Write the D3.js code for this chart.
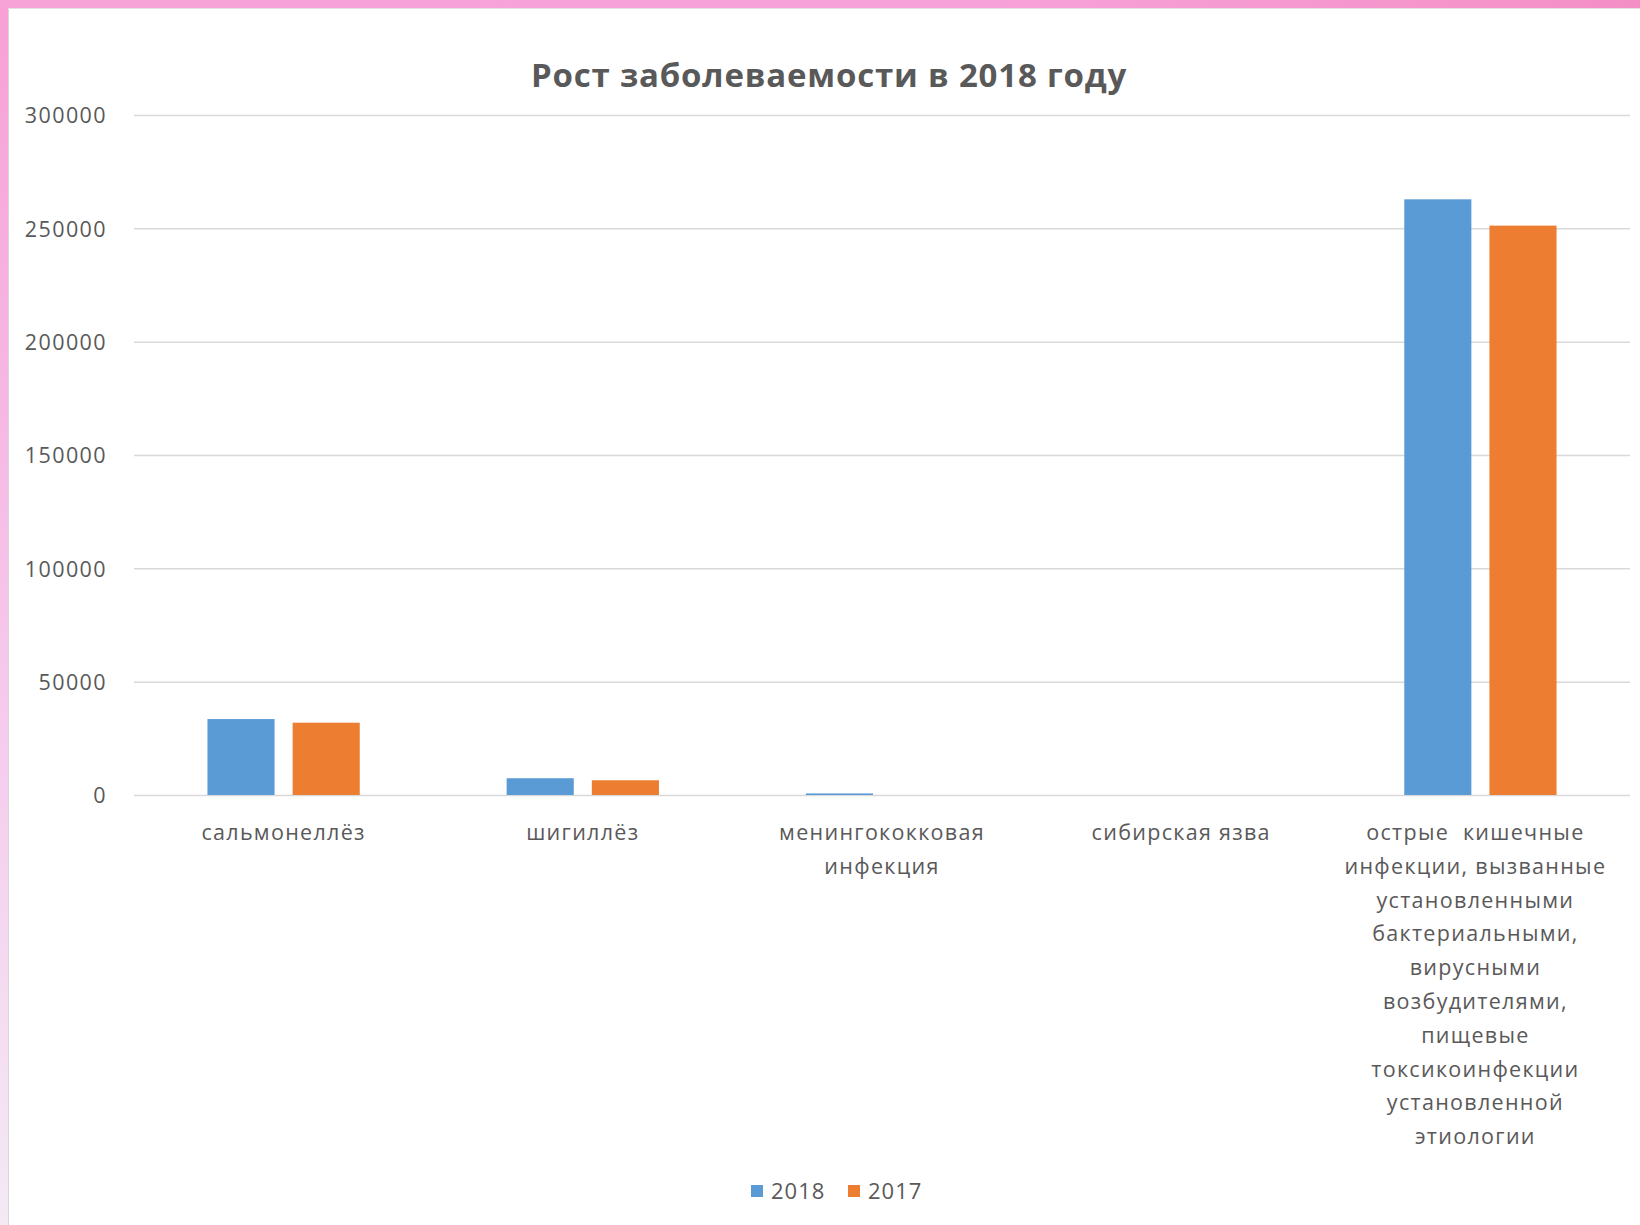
<!DOCTYPE html>
<html>
<head>
<meta charset="utf-8">
<script src="https://cdn.jsdelivr.net/npm/d3@7"></script>
<style>
  html, body { margin: 0; padding: 0; background: #ffffff; }
  svg { display: block; }
  text { font-family: "Open Sans", "Noto Sans", sans-serif; fill: #595959; }
</style>
</head>
<body>
<svg id="chart" width="1640" height="1225"></svg>
<script>
// Categories (label lines) and values per year
const categories = [
  ["сальмонеллёз"],
  ["шигиллёз"],
  ["менингококковая", "инфекция"],
  ["сибирская язва"],
  ["острые  кишечные", "инфекции, вызванные", "установленными", "бактериальными,", "вирусными", "возбудителями,", "пищевые", "токсикоинфекции", "установленной", "этиологии"]
];
const categoryKeys = ["sal", "shig", "mening", "anthrax", "oki"];
const series = ["2018", "2017"];
const values2018 = [33500, 7400, 700, 3, 262800];
const values2017 = [31900, 6500, 0, 1, 251200];
const yTicks = [0, 50000, 100000, 150000, 200000, 250000, 300000];
const title = "Рост заболеваемости в 2018 году";

const colors = { "2018": "#5b9bd5", "2017": "#ed7d31" };

const svg = d3.select("#chart");
const W = 1640, H = 1225;

// Page frame: pink gradient border on top and left
const defs = svg.append("defs");
const lg = defs.append("linearGradient").attr("id", "leftEdge")
  .attr("x1", 0).attr("y1", 0).attr("x2", 0).attr("y2", 1);
lg.append("stop").attr("offset", "0%").attr("stop-color", "#f7a0d6");
lg.append("stop").attr("offset", "55%").attr("stop-color", "#f6c8ec");
lg.append("stop").attr("offset", "100%").attr("stop-color", "#f3eaf4");
const tg = defs.append("linearGradient").attr("id", "topEdge")
  .attr("x1", 0).attr("y1", 0).attr("x2", 1).attr("y2", 0);
tg.append("stop").attr("offset", "0%").attr("stop-color", "#f8a3d8");
tg.append("stop").attr("offset", "60%").attr("stop-color", "#f7a2d9");
tg.append("stop").attr("offset", "100%").attr("stop-color", "#f48fc6");

svg.append("rect").attr("x", 0).attr("y", 0).attr("width", W).attr("height", H).attr("fill", "#ffffff");
svg.append("rect").attr("x", 0).attr("y", 0).attr("width", 8).attr("height", H).attr("fill", "url(#leftEdge)");
svg.append("rect").attr("x", 0).attr("y", 0).attr("width", W).attr("height", 8).attr("fill", "url(#topEdge)");
svg.append("line").attr("x1", 8.5).attr("x2", 8.5).attr("y1", 8).attr("y2", H)
  .attr("stroke", "#d6d6d6").attr("stroke-width", 1);
svg.append("line").attr("x1", 8).attr("x2", W).attr("y1", 8.5).attr("y2", 8.5)
  .attr("stroke", "#e2e2e2").attr("stroke-width", 1);

// Plot area
const plot = { left: 134, right: 1630, top: 115, bottom: 795 };

const y = d3.scaleLinear().domain([0, 300000]).range([plot.bottom, plot.top]);
const x0 = d3.scaleBand().domain(categoryKeys).range([plot.left, plot.right])
  .paddingInner(0.491).paddingOuter(0.2455);
const x1 = d3.scaleBand().domain(series).range([0, x0.bandwidth()]).paddingInner(0.212);

// Gridlines and value axis labels
const yAxis = d3.axisLeft(y).tickValues(yTicks).tickSize(-(plot.right - plot.left)).tickPadding(27)
  .tickFormat(d3.format("d"));
const gy = svg.append("g").attr("transform", `translate(${plot.left},0)`).call(yAxis);
gy.select(".domain").remove();
gy.selectAll(".tick line").attr("stroke", "#d9d9d9").attr("stroke-width", 1.5);
gy.selectAll(".tick text").attr("font-size", 21.5).attr("fill", "#595959")
  .attr("letter-spacing", "1.4px")
  .attr("font-family", "\"Open Sans\", sans-serif").attr("dy", "0.36em");

// Bars
const rows = categoryKeys.map((k, i) => ({ key: k, "2018": values2018[i], "2017": values2017[i] }));
const groups = svg.append("g").selectAll("g").data(rows).join("g")
  .attr("transform", d => `translate(${x0(d.key)},0)`);
groups.selectAll("rect")
  .data(d => series.map(s => ({ s, v: d[s] })))
  .join("rect")
  .attr("x", d => x1(d.s))
  .attr("width", x1.bandwidth())
  .attr("y", d => y(d.v))
  .attr("height", d => y(0) - y(d.v))
  .attr("fill", d => colors[d.s]);

// Category labels
const lineH = 33.8;
const xl = svg.append("g");
categoryKeys.forEach((k, i) => {
  const cx = x0(k) + x0.bandwidth() / 2 - (i === 4 ? 5 : 0);
  const t = xl.append("text")
    .attr("x", cx)
    .attr("y", 840)
    .attr("text-anchor", "middle")
    .attr("font-size", 21.5)
    .attr("letter-spacing", "1.3px")
    .style("white-space", "pre")
    .attr("xml:space", "preserve");
  categories[i].forEach((line, j) => {
    t.append("tspan").attr("x", cx).attr("dy", j === 0 ? 0 : lineH).text(line);
  });
});

// Title
svg.append("text").attr("x", 829).attr("y", 87).attr("text-anchor", "middle")
  .attr("font-size", 33).attr("font-weight", "bold").attr("letter-spacing", "0.8px")
  .attr("fill", "#595959").text(title);

// Legend
const legend = svg.append("g");
const legendItems = [{ s: "2018", x: 751 }, { s: "2017", x: 848 }];
legendItems.forEach(it => {
  legend.append("rect").attr("x", it.x).attr("y", 1185).attr("width", 12).attr("height", 12)
    .attr("fill", colors[it.s]);
  legend.append("text").attr("x", it.x + 20).attr("y", 1199).attr("font-size", 22)
    .attr("letter-spacing", "1px").text(it.s);
});
</script>
</body>
</html>
